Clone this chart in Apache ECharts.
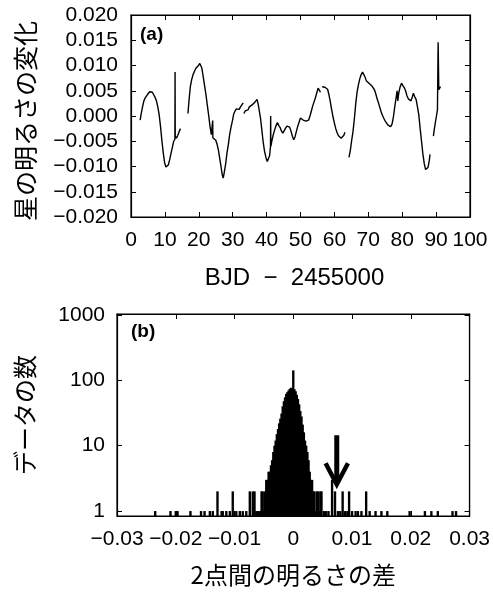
<!DOCTYPE html>
<html>
<head>
<meta charset="utf-8">
<script src="https://cdn.jsdelivr.net/npm/echarts@6/dist/echarts.min.js"></script>
<style>
  html, body { margin: 0; background: #fff; }
  #chart { width: 493px; height: 592px; }
</style>
</head>
<body>
<div id="chart"></div>
<script>
  // (a) light curve, one array per continuous stretch: [BJD - 2455000, relative brightness]
  var seg1 = [[2.7,-0.0008],[3.0,0.0004],[3.4,0.0018],[3.8,0.0030],[4.2,0.0036],[4.5,0.0035],[4.8,0.0042],[5.2,0.0044],[5.5,0.0048],[5.9,0.0050],[6.3,0.0047],[6.7,0.0042],[7.1,0.0037],[7.5,0.0030],[7.9,0.0018],[8.3,0.0003],[8.7,-0.0020],[9.1,-0.0048],[9.5,-0.0072],[9.9,-0.0092],[10.3,-0.0101],[10.6,-0.0103],[11.0,-0.0097],[11.4,-0.0087],[11.8,-0.0074],[12.2,-0.0062],[12.6,-0.0050],[12.95,-0.0046],[13.0,0.0087],[13.05,-0.0040],[13.4,-0.0044],[13.8,-0.0038],[14.2,-0.0031],[14.6,-0.0025]]
  var seg2 = [[16.8,0.0005],[17.1,0.0030],[17.5,0.0058],[17.9,0.0072],[18.3,0.0082],[18.7,0.0088],[19.1,0.0094],[19.5,0.0097],[19.9,0.0100],[20.3,0.0104],[20.6,0.0106],[20.9,0.0095],[21.3,0.0078],[21.7,0.0060],[22.1,0.0043],[22.5,0.0022],[22.9,0.0002],[23.3,-0.0020],[23.7,-0.0037],[24.05,-0.0040],[24.1,-0.0009],[24.15,-0.0043],[24.6,-0.0042],[25.0,-0.0048],[25.4,-0.0056],[25.8,-0.0068],[26.2,-0.0085],[26.6,-0.0102],[26.9,-0.0116],[27.2,-0.0123],[27.5,-0.0112],[27.9,-0.0096],[28.3,-0.0074],[28.7,-0.0057],[29.1,-0.0037],[29.5,-0.0022],[29.9,-0.0010],[30.3,0.0004],[30.7,0.0010],[31.1,0.0014],[31.5,0.0016],[31.9,0.0013],[32.3,0.0018],[32.7,0.0020],[33.1,0.0026]]
  var seg3 = [[33.3,0.0005],[33.7,0.0010],[34.1,0.0013],[34.5,0.0012],[34.9,0.0018],[35.3,0.0016],[35.7,0.0022],[36.1,0.0020],[36.5,0.0027],[36.9,0.0030],[37.2,0.0033],[37.5,0.0024],[37.8,0.0012],[38.2,-0.0004],[38.6,-0.0028],[39.0,-0.0052],[39.4,-0.0070],[39.8,-0.0082],[40.2,-0.0090],[40.5,-0.0092],[40.9,-0.0078],[41.15,-0.0060],[41.2,0.0000],[41.25,-0.0060],[41.6,-0.0048],[42.0,-0.0036],[42.4,-0.0027],[42.8,-0.0019],[43.2,-0.0013],[43.6,-0.0019],[44.0,-0.0023],[44.4,-0.0030],[44.8,-0.0034],[45.2,-0.0029],[45.6,-0.0024],[46.0,-0.0020],[46.4,-0.0017],[46.8,-0.0022],[47.2,-0.0030],[47.6,-0.0040],[48.0,-0.0047],[48.4,-0.0041],[48.8,-0.0030],[49.2,-0.0020],[49.6,-0.0012],[50.0,-0.0004],[50.4,-0.0002],[50.8,-0.0008],[51.2,-0.0006],[51.6,-0.0010],[52.0,-0.0012],[52.4,-0.0008],[52.8,0.0000],[53.2,0.0010],[53.6,0.0020],[54.0,0.0028],[54.4,0.0036],[54.8,0.0046],[55.2,0.0055],[55.5,0.0052],[55.9,0.0047]]
  var seg4 = [[56.4,0.0058],[56.8,0.0060],[57.2,0.0057],[57.6,0.0058],[58.0,0.0053],[58.4,0.0042],[58.8,0.0028],[59.2,0.0012],[59.6,-0.0002],[60.0,-0.0014],[60.4,-0.0025],[60.8,-0.0033],[61.2,-0.0039],[61.6,-0.0042],[62.0,-0.0044],[62.4,-0.0041],[62.8,-0.0038],[63.1,-0.0032]]
  var seg5 = [[64.3,-0.0082],[64.7,-0.0068],[65.1,-0.0048],[65.5,-0.0030],[65.9,-0.0005],[66.3,0.0025],[66.7,0.0048],[67.1,0.0062],[67.5,0.0074],[67.9,0.0082],[68.3,0.0087],[68.6,0.0088],[69.0,0.0078],[69.4,0.0070],[69.8,0.0072],[70.2,0.0065],[70.6,0.0066],[71.0,0.0060],[71.4,0.0061],[71.8,0.0052],[72.2,0.0044],[72.6,0.0034],[73.0,0.0026],[73.4,0.0017],[73.8,0.0008],[74.2,0.0001],[74.6,-0.0005],[75.0,-0.0010],[75.4,-0.0014],[75.8,-0.0018],[76.2,-0.0020],[76.6,-0.0021],[77.0,-0.0016],[77.4,-0.0002],[77.8,0.0018],[78.2,0.0036],[78.5,0.0050],[78.7,0.0030],[79.0,0.0046],[79.4,0.0058],[79.8,0.0065],[80.2,0.0060],[80.6,0.0056],[81.0,0.0050],[81.4,0.0040],[81.8,0.0034],[82.2,0.0031],[82.6,0.0030],[83.0,0.0038],[83.3,0.0045],[83.7,0.0038],[84.1,0.0033],[84.5,0.0018],[84.9,0.0002],[85.3,-0.0025],[85.7,-0.0050],[86.1,-0.0075],[86.5,-0.0094],[86.9,-0.0106],[87.2,-0.0109],[87.6,-0.0102],[88.0,-0.0088],[88.2,-0.0076]]
  var seg6 = [[89.2,-0.0040],[89.5,-0.0025],[89.8,-0.0012],[90.1,0.0000],[90.4,0.0012],[90.6,0.0146],[90.8,0.0052],[91.0,0.0050],[91.3,0.0058]]

  // (b) histogram of point-to-point brightness differences
  var histX = [-0.0235,-0.0209,-0.0200,-0.0197,-0.0175,-0.0157,-0.0151,-0.0142,-0.0137,-0.0129,-0.0122,-0.0120,-0.0114,-0.0108,-0.0103,-0.0097,-0.0091,-0.0086,-0.0080,-0.0074,-0.0069,-0.0066,-0.0063,-0.0060,-0.0057,
    -0.0054,-0.0052,-0.0050,-0.0048,-0.0046,-0.0044,-0.0042,-0.0040,-0.0038,-0.0036,-0.0034,-0.0032,-0.0030,-0.0028,-0.0026,-0.0024,-0.0022,-0.0020,-0.0018,-0.0016,-0.0014,-0.0012,-0.0010,-0.0008,-0.0006,-0.0004,-0.0002,
    0.0000,0.0002,0.0004,0.0006,0.0008,0.0010,0.0012,0.0014,0.0016,0.0018,0.0020,0.0022,0.0024,0.0026,0.0028,0.0030,0.0032,0.0034,0.0036,0.0038,0.0040,0.0042,0.0044,0.0046,0.0048,
    0.0052,0.0056,0.0060,0.0066,0.0071,0.0076,0.0080,0.0084,0.0088,0.0092,0.0095,0.0100,0.0106,0.0110,0.0116,0.0124,0.0130,0.0140,0.0150,0.0160,0.0198,0.0224,0.0235,0.0246,0.0271,0.0277]
  var histN = [1,1,1,1,1,1,1,1,1,2,1,1,1,1,2,1,1,1,1,2,2,2,1,1,1,
    2,2,1,2,3,3,4,4,5,6,8,10,12,15,18,22,26,31,40,48,55,62,66,70,74,77,76,
    142,73,68,60,52,43,34,28,21,16,12,10,8,6,4,3,3,2,2,1,2,2,1,2,2,
    1,1,1,3,2,1,1,2,1,1,2,1,1,1,1,2,1,1,1,1,1,1,1,1,1,1]
  var binWidth = 0.0002

  // arrow in (b): position and heights in data units
  var arrowX = 0.0074
  var arrowTop = 14.5
  var arrowTip = 2.55
  var arrowHead = 5.4
  var arrowHalf = 0.0019

  var font = "'Liberation Sans', 'Noto Sans CJK JP', sans-serif"
  var jpFont = "'Noto Sans CJK JP', sans-serif"

  function minus(s) {
    return s.replace('-', '\u2212')
  }

  var chart = echarts.init(document.getElementById('chart'))

  var tickIn = { inside: true, length: 5, lineStyle: { color: '#000', width: 1 } }
  var lineBlack = { onZero: false, lineStyle: { color: '#000', width: 1.2 } }

  var curveSeries = [seg1, seg2, seg3, seg4, seg5, seg6].map(function (seg) {
    return {
      type: 'line',
      xAxisIndex: 0,
      yAxisIndex: 0,
      data: seg,
      showSymbol: false,
      lineStyle: { color: '#000', width: 1.4 },
      silent: true
    }
  })

  chart.setOption({
    animation: false,
    backgroundColor: '#fff',
    textStyle: { fontFamily: font, color: '#000' },
    title: [
      { text: '(a)', left: 135, top: 20, textStyle: { fontSize: 19, fontWeight: 'bold', color: '#000', fontFamily: font } },
      { text: '(b)', left: 126, top: 317, textStyle: { fontSize: 19, fontWeight: 'bold', color: '#000', fontFamily: font } }
    ],
    grid: [
      { left: 131, top: 15, width: 339, height: 202, show: true, borderColor: '#000', borderWidth: 1.2 },
      { left: 117, top: 314, width: 353, height: 202, show: true, borderColor: '#000', borderWidth: 1.2 }
    ],
    xAxis: [
      {
        gridIndex: 0, type: 'value', min: 0, max: 100, interval: 10,
        name: 'BJD  \u2212  2455000', nameLocation: 'middle', nameGap: 49,
        nameTextStyle: { fontSize: 24, fontFamily: font, color: '#000', padding: [0, 12, 0, 0] },
        axisLine: lineBlack, axisTick: tickIn, splitLine: { show: false },
        axisLabel: { fontSize: 21, color: '#000', margin: 13 }
      },
      {
        gridIndex: 0, type: 'value', position: 'top', min: 0, max: 100, interval: 10,
        axisLine: lineBlack, axisTick: tickIn, splitLine: { show: false }, axisLabel: { show: false }
      },
      {
        gridIndex: 1, type: 'value', min: -0.03, max: 0.03, interval: 0.01,
        name: '2点間の明るさの差', nameLocation: 'middle', nameGap: 47,
        nameTextStyle: { fontSize: 24, fontFamily: jpFont, color: '#000' },
        axisLine: lineBlack, axisTick: tickIn, splitLine: { show: false },
        axisLabel: {
          fontSize: 21, color: '#000', margin: 13,
          formatter: function (v) { return Math.abs(v) < 1e-9 ? '0' : minus(v.toFixed(2)) }
        }
      },
      {
        gridIndex: 1, type: 'value', position: 'top', min: -0.03, max: 0.03, interval: 0.01,
        axisLine: lineBlack, axisTick: tickIn, splitLine: { show: false }, axisLabel: { show: false }
      }
    ],
    yAxis: [
      {
        gridIndex: 0, type: 'value', min: -0.02, max: 0.02, interval: 0.005,
        name: '星の明るさの変化', nameLocation: 'middle', nameGap: 93, nameRotate: 90,
        nameTextStyle: { fontSize: 25, fontFamily: jpFont, color: '#000', padding: [0, 10, 0, 0] },
        axisLine: lineBlack, axisTick: tickIn, splitLine: { show: false },
        axisLabel: {
          fontSize: 21, color: '#000', margin: 13,
          formatter: function (v) { return minus(v.toFixed(3)) }
        }
      },
      {
        gridIndex: 0, type: 'value', position: 'right', min: -0.02, max: 0.02, interval: 0.005,
        axisLine: lineBlack, axisTick: tickIn, splitLine: { show: false }, axisLabel: { show: false }
      },
      {
        gridIndex: 1, type: 'log', min: 0.84, max: 1035,
        name: 'データの数', nameLocation: 'middle', nameGap: 80, nameRotate: 90,
        nameTextStyle: { fontSize: 24, fontFamily: jpFont, color: '#000' },
        axisLine: lineBlack, axisTick: tickIn, splitLine: { show: false },
        axisLabel: {
          fontSize: 21, color: '#000', margin: 12, showMinLabel: false, showMaxLabel: false,
          formatter: function (v) { return String(Math.round(v)) }
        }
      },
      {
        gridIndex: 1, type: 'log', position: 'right', min: 0.84, max: 1035,
        axisLine: lineBlack, axisTick: tickIn, splitLine: { show: false }, axisLabel: { show: false }
      }
    ],
    series: curveSeries.concat([
      {
        type: 'custom',
        xAxisIndex: 2,
        yAxisIndex: 2,
        silent: true,
        data: histX.map(function (x, i) { return [x, histN[i]] }),
        renderItem: function (params, api) {
          var x = api.value(0)
          var n = api.value(1)
          var a = api.coord([x - binWidth / 2, n])
          var b = api.coord([x + binWidth / 2, n])
          var bottom = params.coordSys.y + params.coordSys.height
          return {
            type: 'rect',
            shape: { x: a[0] - 0.6, y: a[1], width: Math.max(b[0] - a[0] + 1.2, 1.4), height: bottom - a[1] },
            style: { fill: '#000', stroke: null }
          }
        }
      },
      {
        type: 'line', xAxisIndex: 2, yAxisIndex: 2, silent: true, showSymbol: false,
        data: [[arrowX, arrowTop], [arrowX, arrowTip + 0.4]],
        lineStyle: { color: '#000', width: 5, cap: 'butt' }
      },
      {
        type: 'line', xAxisIndex: 2, yAxisIndex: 2, silent: true, showSymbol: false,
        data: [[arrowX - arrowHalf, arrowHead], [arrowX, arrowTip], [arrowX + arrowHalf, arrowHead]],
        lineStyle: { color: '#000', width: 4.5, join: 'miter' }
      }
    ])
  })
</script>
</body>
</html>
